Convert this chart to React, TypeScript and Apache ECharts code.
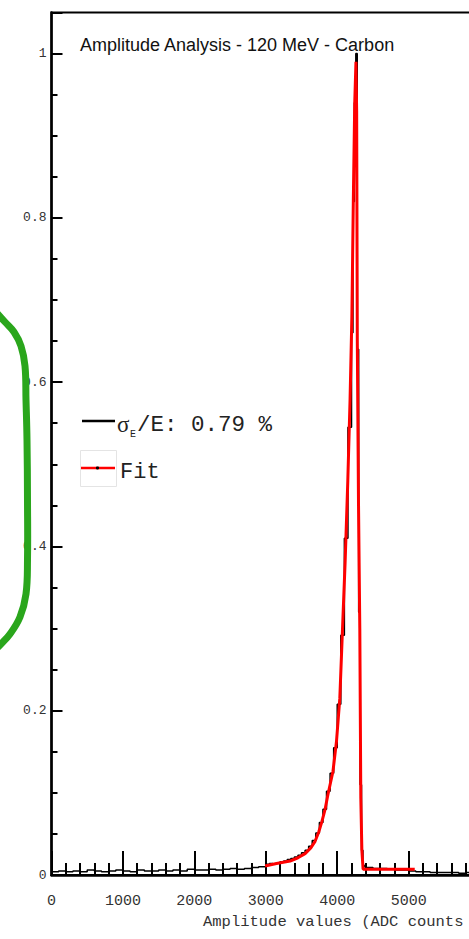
import React, { useEffect, useRef } from "react";
import * as echarts from "echarts";

// Histogram bin contents (normalised), grouped by bin width
const lowStart = 0, lowWidth = 100;
const lowBins = [0.004, 0.005, 0.004, 0.005, 0.004, 0.006, 0.005, 0.004, 0.005, 0.006, 0.005, 0.004, 0.006, 0.005, 0.005, 0.006, 0.005, 0.006, 0.005, 0.007, 0.006, 0.006, 0.007, 0.006, 0.007, 0.008, 0.007, 0.008, 0.009, 0.010];
const riseStart = 3000, riseWidth = 50;
const riseBins = [0.013, 0.014, 0.013, 0.015, 0.016, 0.017, 0.019, 0.020, 0.022, 0.024, 0.027, 0.030, 0.035, 0.042, 0.051, 0.064, 0.080, 0.102, 0.124, 0.155, 0.208, 0.292, 0.410, 0.545];
const peakStart = 4200, peakWidth = 20;
const peakBins = [0.66, 0.82, 0.94, 1.0, 0.64, 0.32, 0.11, 0.03, 0.012, 0.010];
const tailStart = 4400, tailWidth = 100;
const tailBins = [0.009, 0.008, 0.008, 0.007, 0.006, 0.006, 0.005, 0.004, 0.004, 0.003, 0.003, 0.003, 0.003, 0.002, 0.003, 0.003];

// Fit curve
const fitX = [2990, 3150, 3340, 3450, 3550, 3630, 3690, 3740, 3785, 3830, 3870, 3940, 3990, 4036, 4074, 4110, 4148, 4180, 4205, 4225, 4245, 4262, 4272, 4281, 4298, 4316, 4330, 4345, 4362, 4600, 5085];
const fitY = [0.011, 0.014, 0.017, 0.021, 0.026, 0.033, 0.041, 0.052, 0.065, 0.080, 0.098, 0.126, 0.163, 0.215, 0.30, 0.38, 0.48, 0.58, 0.68, 0.82, 0.94, 0.99, 0.93, 0.65, 0.45, 0.30, 0.094, 0.03, 0.007, 0.007, 0.007];

const xTickLabels = ["0", "1000", "2000", "3000", "4000", "5000"];
const titleText = "Amplitude Analysis - 120 MeV - Carbon";
const xTitle = "Amplitude values (ADC counts";
const legendResolution = "/E: 0.79 %";
const legendFit = "Fit";

function steps(start: number, width: number, values: number[]) {
  const pts: number[][] = [];
  values.forEach((v, i) => {
    pts.push([start + i * width, v]);
    pts.push([start + (i + 1) * width, v]);
  });
  return pts;
}

export default function App() {
  const ref = useRef<HTMLDivElement>(null);
  useEffect(() => {
    if (!ref.current) return;
    const chart = echarts.init(ref.current, null, { renderer: "svg" });
    const hist = [
      ...steps(lowStart, lowWidth, lowBins),
      ...steps(riseStart, riseWidth, riseBins),
      ...steps(peakStart, peakWidth, peakBins),
      ...steps(tailStart, tailWidth, tailBins),
    ];
    const fit = fitX.map((x, i) => [x, fitY[i]]);
    const mono = "'Liberation Mono', 'DejaVu Sans Mono', monospace";
    chart.setOption({
      animation: false,
      backgroundColor: "#fff",
      grid: {
        left: 51.5,
        top: 12.5,
        width: 428.6,
        height: 862.5,
        show: true,
        borderColor: "#000",
        borderWidth: 2,
      },
      xAxis: {
        type: "value",
        min: 0,
        max: 6000,
        interval: 1000,
        axisLine: { lineStyle: { color: "#000", width: 2.5 } },
        axisTick: { inside: true, length: 24, lineStyle: { color: "#000", width: 2 } },
        minorTick: { show: true, splitNumber: 5, length: 12, lineStyle: { color: "#000", width: 2 } },
        splitLine: { show: false },
        axisLabel: {
          margin: 19,
          fontFamily: mono,
          fontSize: 15,
          color: "#333",
          formatter: (v: number) => {
            const i = Math.round(v / 1000);
            return i < xTickLabels.length ? xTickLabels[i] : "";
          },
        },
      },
      yAxis: [
        {
          type: "value",
          min: 0,
          max: 1.05,
          interval: 0.2,
          axisLine: { show: true, lineStyle: { color: "#000", width: 2.5 } },
          axisTick: { inside: true, length: 11, lineStyle: { color: "#000", width: 2 } },
          splitLine: { show: false },
          axisLabel: {
            margin: 5,
            fontFamily: mono,
            fontSize: 13,
            color: "#333",
            formatter: (v: number) => {
              if (v > 1.001) return "";
              if (v === 0) return "0";
              if (Math.abs(v - 1) < 1e-9) return "1";
              return v.toFixed(1);
            },
          },
        },
        {
          type: "value",
          min: 0,
          max: 1.05,
          interval: 0.05,
          position: "left",
          axisLine: { show: false },
          axisTick: { inside: true, length: 6, lineStyle: { color: "#000", width: 2 } },
          axisLabel: { show: false },
          splitLine: { show: false },
        },
      ],
      series: [
        {
          type: "line",
          data: hist,
          showSymbol: false,
          silent: true,
          lineStyle: { color: "#000", width: 1.5 },
          z: 2,
        },
        {
          type: "line",
          data: fit,
          showSymbol: false,
          silent: true,
          lineStyle: { color: "#ff0000", width: 3 },
          z: 3,
        },
      ],
      graphic: [
        {
          type: "text",
          x: 80,
          y: 45,
          style: {
            text: titleText,
            fontFamily: "'Liberation Sans', Arial, sans-serif",
            fontSize: 18,
            fill: "#111",
            verticalAlign: "middle",
          },
        },
        {
          type: "text",
          x: 203,
          y: 922,
          style: {
            text: xTitle,
            fontFamily: mono,
            fontSize: 15.5,
            fill: "#333",
            verticalAlign: "middle",
          },
        },
        {
          type: "line",
          shape: { x1: 82, y1: 421, x2: 115, y2: 421 },
          style: { stroke: "#000", lineWidth: 2.5 },
        },
        {
          type: "text",
          x: 117,
          y: 424,
          style: {
            text: "σ",
            fontFamily: "'Liberation Serif', 'DejaVu Serif', serif",
            fontSize: 23,
            fill: "#222",
            verticalAlign: "middle",
          },
        },
        {
          type: "text",
          x: 130,
          y: 434,
          style: {
            text: "E",
            fontFamily: mono,
            fontSize: 10,
            fill: "#222",
            verticalAlign: "middle",
          },
        },
        {
          type: "text",
          x: 137,
          y: 425,
          style: {
            text: legendResolution,
            fontFamily: mono,
            fontSize: 22.5,
            fill: "#222",
            verticalAlign: "middle",
          },
        },
        {
          type: "rect",
          shape: { x: 80.5, y: 450.5, width: 36, height: 36 },
          style: { fill: "none", stroke: "#e4e4e4", lineWidth: 1 },
        },
        {
          type: "line",
          shape: { x1: 81, y1: 468, x2: 115, y2: 468 },
          style: { stroke: "#ff0000", lineWidth: 2.5 },
        },
        {
          type: "circle",
          shape: { cx: 97.5, cy: 468, r: 1.6 },
          style: { fill: "#000" },
        },
        {
          type: "text",
          x: 120,
          y: 472,
          style: {
            text: legendFit,
            fontFamily: mono,
            fontSize: 22,
            fill: "#222",
            verticalAlign: "middle",
          },
        },
        {
          type: "polyline",
          z: 100,
          shape: {
            points: [
              [-6, 310],
              [5, 322],
              [14, 332],
              [21, 346],
              [25, 366],
              [26, 400],
              [27, 440],
              [27.5, 500],
              [27.5, 560],
              [26, 594],
              [20, 617],
              [10, 634],
              [0, 645],
              [-6, 651],
            ],
            smooth: 0.4,
          },
          style: { stroke: "#2aa61c", lineWidth: 7, fill: null, lineCap: "round", lineJoin: "round" },
        },
      ],
    });
    return () => chart.dispose();
  }, []);
  return (
    <div
      style={{
        position: "fixed",
        left: 0,
        top: 0,
        width: 469,
        height: 939,
        overflow: "hidden",
        background: "#fff",
      }}
    >
      <div ref={ref} style={{ width: 500, height: 939 }} />
    </div>
  );
}
